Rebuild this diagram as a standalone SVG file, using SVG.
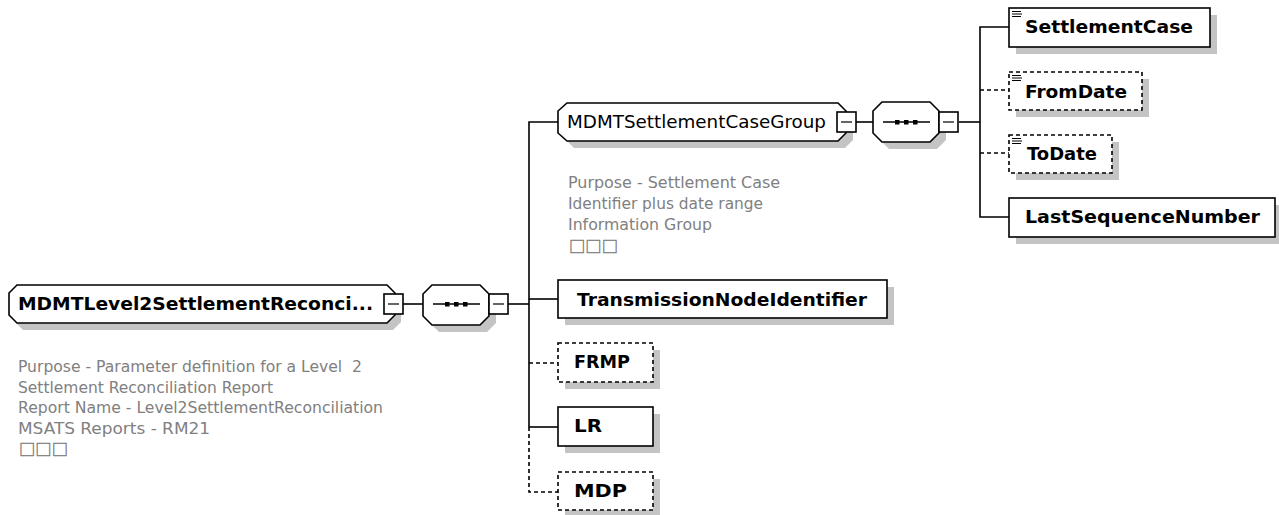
<svg xmlns="http://www.w3.org/2000/svg" width="1279" height="515" viewBox="0 0 1279 515">
<style>
.bg{fill:#ffffff}
.shadow{fill:#c4c4c4;stroke:none}
.box{fill:#ffffff;stroke:#000000;stroke-width:1.6}
.opt{fill:#ffffff;stroke:#000000;stroke-width:1.6;stroke-dasharray:4,3}
.ln{fill:none;stroke:#000000;stroke-width:1.6}
.dln{fill:none;stroke:#000000;stroke-width:1.6;stroke-dasharray:4,3}
.thin{fill:none;stroke:#000000;stroke-width:1.2}
.b{font-family:"DejaVu Sans","Liberation Sans",sans-serif;font-weight:bold;font-size:17px;fill:#000000}
.n{font-family:"DejaVu Sans","Liberation Sans",sans-serif;font-size:17px;fill:#000000}
.g{font-family:"DejaVu Sans","Liberation Sans",sans-serif;font-size:16px;fill:#808080}
.sq{font-family:"Noto Sans CJK SC","DejaVu Sans",sans-serif;font-size:15px;fill:#808080;stroke:#808080;stroke-width:0.4}
.dot{fill:#000000}
</style>
<rect class="bg" x="0" y="0" width="1279" height="515"/>

<g id="connectors">
  <line class="ln" x1="403" y1="304" x2="423" y2="304"/>
  <line class="ln" x1="508" y1="304" x2="529" y2="304"/>
  <path class="ln" d="M558,122 H529 V427"/>
  <path class="dln" d="M529,427 V492 H558"/>
  <line class="ln" x1="529" y1="299" x2="558" y2="299"/>
  <line class="dln" x1="529" y1="363" x2="558" y2="363"/>
  <line class="ln" x1="529" y1="427" x2="558" y2="427"/>
  <line class="ln" x1="856" y1="122" x2="873" y2="122"/>
  <line class="ln" x1="959" y1="122" x2="980" y2="122"/>
  <path class="ln" d="M1009,27 H980 V217 H1009"/>
  <line class="dln" x1="980" y1="90" x2="1009" y2="90"/>
  <line class="dln" x1="980" y1="153" x2="1009" y2="153"/>
</g>

<g id="node-main">
  <path class="shadow" d="M23,292 H393 L401,300 V322 L393,330 H23 L15,322 V300 Z"/>
  <path class="box" d="M17,285 H387 L395,293 V315 L387,323 H17 L9,315 V293 Z"/>
  <text class="b" x="18" y="310" textLength="355" lengthAdjust="spacingAndGlyphs">MDMTLevel2SettlementReconci...</text>
  <rect class="box" x="384" y="294" width="19" height="20"/>
  <line class="thin" x1="388" y1="304" x2="399" y2="304"/>
  <g id="desc-main">
    <text class="g" x="18" y="372" textLength="344" lengthAdjust="spacingAndGlyphs" xml:space="preserve">Purpose - Parameter definition for a Level  2</text>
    <text class="g" x="18" y="392.5" textLength="255" lengthAdjust="spacingAndGlyphs">Settlement Reconciliation Report</text>
    <text class="g" x="18" y="413" textLength="365" lengthAdjust="spacingAndGlyphs">Report Name - Level2SettlementReconciliation</text>
    <text class="g" x="18" y="433.5" textLength="192" lengthAdjust="spacingAndGlyphs">MSATS Reports - RM21</text>
    <text class="sq" x="19" y="455" textLength="49" lengthAdjust="spacingAndGlyphs">□□□</text>
  </g>
</g>

<g id="seq-main">
  <path class="shadow" d="M439,292 H487 L496,301 V323 L487,332 H439 L430,323 V301 Z"/>
  <path class="box" d="M432,285 H480 L489,294 V316 L480,325 H432 L423,316 V294 Z"/>
  <line class="ln" x1="433" y1="304" x2="480" y2="304"/>
  <rect class="dot" x="445" y="302" width="4.5" height="4.5"/>
  <rect class="dot" x="454" y="302" width="4.5" height="4.5"/>
  <rect class="dot" x="463" y="302" width="4.5" height="4.5"/>
  <rect class="box" x="489" y="294" width="19" height="20"/>
  <line class="thin" x1="493" y1="304" x2="504" y2="304"/>
</g>

<g id="node-group">
  <path class="shadow" d="M574,110 H845 L853,118 V140 L845,148 H574 L566,140 V118 Z"/>
  <path class="box" d="M567,103 H838 L846,111 V133 L838,141 H567 L558,133 V111 Z"/>
  <text class="n" x="567" y="128" textLength="259" lengthAdjust="spacingAndGlyphs">MDMTSettlementCaseGroup</text>
  <rect class="box" x="837" y="112" width="19" height="20"/>
  <line class="thin" x1="841" y1="122" x2="852" y2="122"/>
  <g id="desc-group">
    <text class="g" x="568" y="188" textLength="212" lengthAdjust="spacingAndGlyphs">Purpose - Settlement Case</text>
    <text class="g" x="568" y="209" textLength="195" lengthAdjust="spacingAndGlyphs">Identifier plus date range</text>
    <text class="g" x="568" y="230" textLength="144" lengthAdjust="spacingAndGlyphs">Information Group</text>
    <text class="sq" x="569" y="252" textLength="49" lengthAdjust="spacingAndGlyphs">□□□</text>
  </g>
</g>

<g id="seq-group">
  <path class="shadow" d="M889,109 H937 L946,118 V140 L937,149 H889 L880,140 V118 Z"/>
  <path class="box" d="M882,102 H930 L939,111 V133 L930,142 H882 L873,133 V111 Z"/>
  <line class="ln" x1="883" y1="122" x2="930" y2="122"/>
  <rect class="dot" x="895" y="120" width="4.5" height="4.5"/>
  <rect class="dot" x="904" y="120" width="4.5" height="4.5"/>
  <rect class="dot" x="913" y="120" width="4.5" height="4.5"/>
  <rect class="box" x="939" y="112" width="19" height="20"/>
  <line class="thin" x1="943" y1="122" x2="954" y2="122"/>
</g>

<g id="node-transmission">
  <rect class="shadow" x="565" y="287" width="329" height="38"/>
  <rect class="box" x="558" y="280" width="329" height="38"/>
  <text class="b" x="577" y="306" textLength="290" lengthAdjust="spacingAndGlyphs">TransmissionNodeIdentifier</text>
</g>

<g id="node-frmp">
  <rect class="shadow" x="565" y="350" width="95" height="39"/>
  <rect class="opt" x="558" y="343" width="95" height="39"/>
  <text class="b" x="574" y="368" textLength="56" lengthAdjust="spacingAndGlyphs">FRMP</text>
</g>

<g id="node-lr">
  <rect class="shadow" x="565" y="414" width="95" height="39"/>
  <rect class="box" x="558" y="407" width="95" height="39"/>
  <text class="b" x="574" y="432" textLength="28" lengthAdjust="spacingAndGlyphs">LR</text>
</g>

<g id="node-mdp">
  <rect class="shadow" x="565" y="479" width="95" height="39"/>
  <rect class="opt" x="558" y="472" width="95" height="38"/>
  <text class="b" x="574" y="497" textLength="53" lengthAdjust="spacingAndGlyphs">MDP</text>
</g>

<g id="node-settlementcase">
  <rect class="shadow" x="1016" y="15" width="201" height="39"/>
  <rect class="box" x="1009" y="8" width="201" height="39"/>
  <path class="thin" d="M1012,11.5 H1021 M1012,14 H1022 M1012,16.5 H1021"/>
  <text class="b" x="1025" y="33" textLength="168" lengthAdjust="spacingAndGlyphs">SettlementCase</text>
</g>

<g id="node-fromdate">
  <rect class="shadow" x="1016" y="79" width="133" height="38"/>
  <rect class="opt" x="1009" y="72" width="133" height="38"/>
  <path class="thin" d="M1012,75.5 H1021 M1012,78 H1022 M1012,80.5 H1021"/>
  <text class="b" x="1025" y="98" textLength="102" lengthAdjust="spacingAndGlyphs">FromDate</text>
</g>

<g id="node-todate">
  <rect class="shadow" x="1016" y="142" width="103" height="38"/>
  <rect class="opt" x="1009" y="135" width="103" height="38"/>
  <path class="thin" d="M1012,138.5 H1021 M1012,141 H1022 M1012,143.5 H1021"/>
  <text class="b" x="1027" y="160" textLength="70" lengthAdjust="spacingAndGlyphs">ToDate</text>
</g>

<g id="node-lastsequencenumber">
  <rect class="shadow" x="1016" y="205" width="266" height="39"/>
  <rect class="box" x="1009" y="198" width="266" height="39"/>
  <text class="b" x="1025" y="223" textLength="235" lengthAdjust="spacingAndGlyphs">LastSequenceNumber</text>
</g>
</svg>
